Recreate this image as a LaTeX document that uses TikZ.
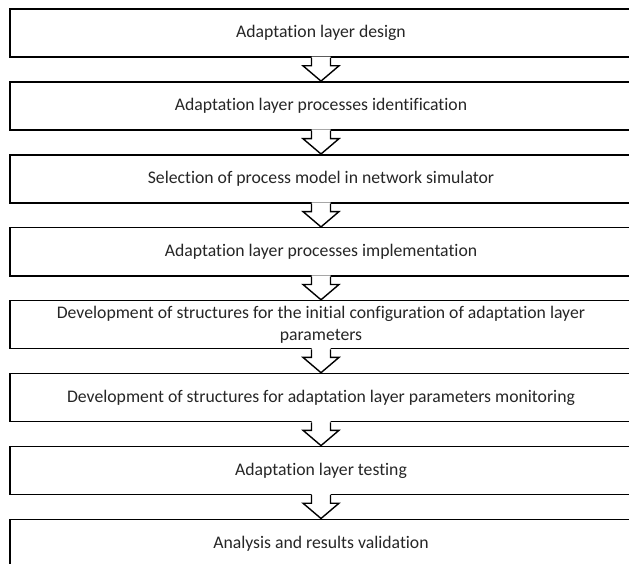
\documentclass[tikz,border=0pt]{standalone}
\usepackage{fontspec}
\setmainfont{Carlito}[Ligatures={NoCommon}]
\usetikzlibrary{calc}
\begin{document}
\begin{tikzpicture}[x=1pt,y=1pt,
  stepbox/.style={draw=black, line width=1.6pt, fill=white, rectangle,
    minimum width=622pt, minimum height=48pt, inner sep=0pt, align=center,
    text=black!85, font=\fontsize{17.7}{22.5}\selectfont},
  flowarrow/.style={draw=black, line width=1.4pt, line join=miter}
]
\path[use as bounding box] (0,0) rectangle (629,-564);
\clip (0,0) rectangle (629,-564);
\fill[white] (0,0) rectangle (629,-564);

\def\pitch{72.9}
\node[stepbox] (b1) at (321,-33) {Adaptation layer design};
\node[stepbox] (b2) at (321,{-33-\pitch}) {Adaptation layer processes identification};
\node[stepbox] (b3) at (321,{-33-2*\pitch}) {Selection of process model in network simulator};
\node[stepbox] (b4) at (321,{-33-3*\pitch}) {Adaptation layer processes implementation};
\node[stepbox] (b5) at (321,{-33-4*\pitch}) {Development of structures for the initial configuration of adaptation layer\\parameters};
\node[stepbox] (b6) at (321,{-33-5*\pitch}) {Development of structures for adaptation layer parameters monitoring};
\node[stepbox] (b7) at (321,{-33-6*\pitch}) {Adaptation layer testing};
\node[stepbox] (b8) at (321,{-33-7*\pitch}) {Analysis and results validation};

\foreach \a/\b in {b1/b2,b2/b3,b3/b4,b4/b5,b5/b6,b6/b7,b7/b8}{
  \fill[white] ([xshift=-9.5pt,yshift=1.2pt]\a.south) -- ([xshift=-9.5pt,yshift=-8pt]\a.south)
     -- ([xshift=-18pt,yshift=-8pt]\a.south) -- (\b.north) -- ([xshift=18pt,yshift=-8pt]\a.south)
     -- ([xshift=9.5pt,yshift=-8pt]\a.south) -- ([xshift=9.5pt,yshift=1.2pt]\a.south) -- cycle;
  \draw[flowarrow] ([xshift=-9.5pt]\a.south) -- ([xshift=-9.5pt,yshift=-8pt]\a.south)
     -- ([xshift=-18pt,yshift=-8pt]\a.south) -- (\b.north) -- ([xshift=18pt,yshift=-8pt]\a.south)
     -- ([xshift=9.5pt,yshift=-8pt]\a.south) -- ([xshift=9.5pt]\a.south);
}
\end{tikzpicture}
\end{document}
